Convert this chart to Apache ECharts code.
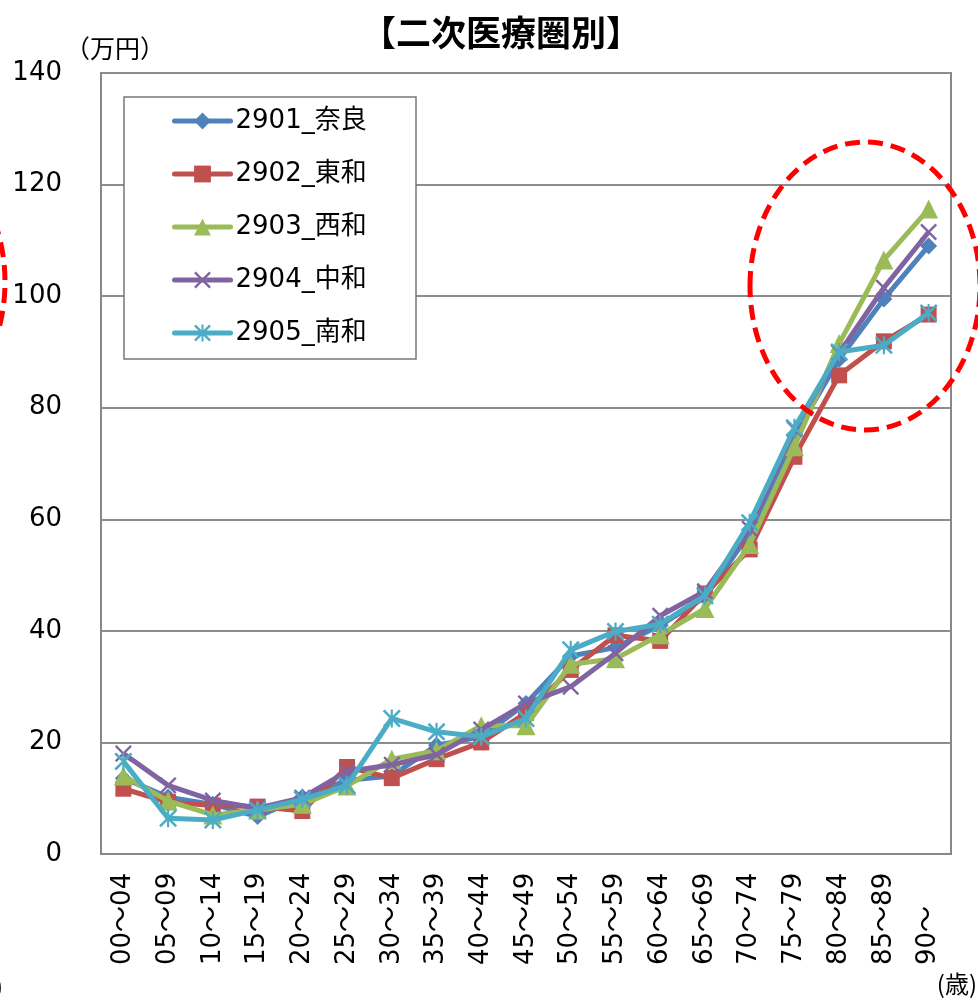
<!DOCTYPE html>
<html>
<head>
<meta charset="utf-8">
<script src="https://cdn.jsdelivr.net/npm/echarts@6/dist/echarts.min.js"></script>
<style>
html,body{margin:0;padding:0;background:#fff;}
#chart{width:978px;height:1000px;}
</style>
</head>
<body>
<div id="chart"></div>
<script>
// ---- data ----
const categories = ['00～04','05～09','10～14','15～19','20～24','25～29','30～34','35～39','40～44','45～49','50～54','55～59','60～64','65～69','70～74','75～79','80～84','85～89','90～'];
const seriesNames = ['2901_奈良','2902_東和','2903_西和','2904_中和','2905_南和'];
const nara   = [13.6, 10.2, 8.9, 6.7, 10.2, 13.2, 14.0, 19.5, 21.0, 27.0, 35.5, 37.0, 41.0, 46.0, 57.5, 75.0, 88.7, 99.5, 109.0];
const towa   = [11.7, 9.3, 8.7, 8.5, 7.7, 15.6, 13.6, 17.0, 20.0, 25.3, 33.0, 39.2, 38.2, 46.7, 54.6, 71.2, 85.8, 91.9, 96.7];
const seiwa  = [14.0, 9.5, 7.0, 7.9, 8.9, 12.2, 17.0, 18.5, 23.0, 23.0, 34.0, 35.0, 39.3, 44.0, 55.5, 73.0, 91.5, 106.5, 115.6];
const chuwa  = [18.0, 12.3, 9.6, 8.2, 10.1, 14.8, 16.0, 17.8, 22.3, 27.0, 30.0, 36.0, 42.7, 47.1, 58.3, 76.2, 89.8, 101.5, 111.5];
const nanwa  = [16.6, 6.4, 6.1, 7.9, 9.8, 12.3, 24.3, 21.9, 21.0, 24.3, 36.6, 39.9, 41.2, 46.3, 59.4, 76.4, 90.0, 91.2, 97.0];
const yTicks = [0, 20, 40, 60, 80, 100, 120, 140];

const colors = ['#4F81BD', '#C0504D', '#9BBB59', '#8064A2', '#4BACC6'];
const X_PATH = 'path://M0,2 L2,0 L10,8 L18,0 L20,2 L12,10 L20,18 L18,20 L10,12 L2,20 L0,18 L8,10 Z';
const STAR_PATH = 'path://M0,2 L2,0 L10,8 L18,0 L20,2 L12,10 L20,18 L18,20 L10,12 L2,20 L0,18 L8,10 Z M8.8,0 L11.2,0 L11.2,20 L8.8,20 Z';
const symbols = ['diamond', 'rect', 'triangle', X_PATH, STAR_PATH];
const symbolSizes = [17, 16, 19, 17, 18];
const dataSets = [nara, towa, seiwa, chuwa, nanwa];

const FONT = "'DejaVu Sans', 'Noto Sans CJK JP', sans-serif";
const CJK = "'Noto Sans CJK JP', sans-serif";

const chart = echarts.init(document.getElementById('chart'), null, {renderer: 'canvas'});

const series = seriesNames.map((name, i) => ({
  name: name,
  type: 'line',
  data: dataSets[i],
  symbol: symbols[i],
  symbolSize: symbolSizes[i],
  showAllSymbol: true,
  lineStyle: {width: 5, color: colors[i]},
  itemStyle: {color: colors[i], borderWidth: 0},
  emphasis: {disabled: true},
  animation: false,
  z: 2 + i
}));

chart.setOption({
  animation: false,
  color: colors,
  grid: {
    left: 101, right: 27, top: 73, bottom: 146,
    show: true, borderColor: '#888888', borderWidth: 2,
    containLabel: false, outerBoundsMode: 'none'
  },
  legend: {
    orient: 'vertical',
    left: 172, top: 108,
    padding: 0,
    itemWidth: 56, itemHeight: 21,
    itemGap: 27,
    data: seriesNames,
    lineStyle: {width: 5, cap: 'round'},
    textStyle: {fontSize: 26, color: '#000', fontFamily: FONT},
    selectedMode: false
  },
  xAxis: {
    type: 'category',
    data: categories,
    boundaryGap: true,
    axisTick: {show: false},
    axisLine: {show: true, lineStyle: {color: '#888888', width: 2}},
    splitLine: {show: false},
    axisLabel: {
      interval: 0,
      rotate: 90,
      align: 'left',
      verticalAlign: 'middle',
      margin: 111,
      fontSize: 26,
      color: '#000',
      fontFamily: FONT,
      hideOverlap: false
    }
  },
  yAxis: {
    type: 'value',
    min: yTicks[0], max: yTicks[yTicks.length - 1], interval: 20,
    axisLine: {show: false},
    axisTick: {show: false},
    splitLine: {show: true, lineStyle: {color: '#8c8c8c', width: 2}},
    axisLabel: {fontSize: 26, color: '#000', fontFamily: FONT, margin: 39}
  },
  series: series,
  graphic: [
    {type: 'rect', z: 1, silent: true,
     shape: {x: 124, y: 97, width: 292, height: 262},
     style: {fill: '#ffffff', stroke: '#777777', lineWidth: 1.5}},
    {type: 'text', silent: true, x: 501, y: 33,
     style: {text: '【二次医療圏別】', font: "bold 35px " + CJK, fill: '#000', align: 'center', verticalAlign: 'middle'}},
    {type: 'text', silent: true, x: 65, y: 48,
     style: {text: '（万円）', font: "25px " + CJK, fill: '#000', align: 'left', verticalAlign: 'middle'}},
    {type: 'text', silent: true, x: 977, y: 984,
     style: {text: '(歳)', font: "24px " + CJK, fill: '#000', align: 'right', verticalAlign: 'middle'}},
    {type: 'text', silent: true, x: -5, y: 986,
     style: {text: ')', font: "24px " + CJK, fill: '#000', align: 'left', verticalAlign: 'middle'}},
    {type: 'ellipse', z: 100, silent: true,
     shape: {cx: 865, cy: 286, rx: 115, ry: 144},
     style: {fill: 'none', stroke: '#ff0000', lineWidth: 5, lineDash: [15, 8]}},
    {type: 'ellipse', z: 100, silent: true,
     shape: {cx: -110, cy: 282, rx: 115, ry: 144},
     style: {fill: 'none', stroke: '#ff0000', lineWidth: 5, lineDash: [15, 8]}}
  ]
});
</script>
</body>
</html>
